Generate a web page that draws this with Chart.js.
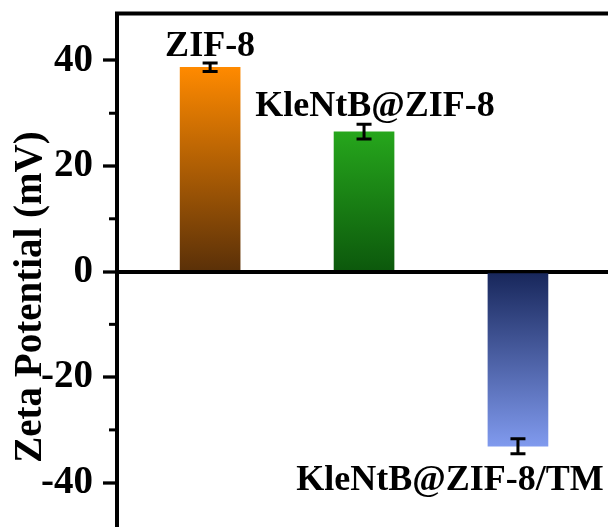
<!DOCTYPE html>
<html>
<head>
<meta charset="utf-8">
<script src="https://cdn.jsdelivr.net/npm/chart.js@4.4.0/dist/chart.umd.min.js"></script>
<style>
  html, body { margin: 0; padding: 0; background: #fff; overflow: hidden; }
</style>
</head>
<body>
<canvas id="chart-area" width="608" height="527"></canvas>
<script>
// values
var categories = ['ZIF-8', 'KleNtB@ZIF-8', 'KleNtB@ZIF-8/TM'];
var zetaValues = [38.7, 26.5, -33.1];
var zetaErrors = [0.8, 1.4, 1.4];
var minorTicks = [-30, -10, 10, 30];

var serif = '"Liberation Serif", "Times New Roman", serif';
// top colour, bottom colour of each bar
var barColors = [
    ['#ff8a00', '#5a3008'],
    ['#26a61c', '#0c580c'],
    ['#17265a', '#809aee']
];
// label offset (px) from the end of each bar
var labelShift = [[0, -11], [11, -16], [-68, 44]];

var decorations = {
    id: 'decorations',
    afterDatasetsDraw: function(chart) {
        var ctx = chart.ctx;
        var xs = chart.scales.x, ys = chart.scales.y;
        var area = chart.chartArea;
        ctx.save();
        ctx.strokeStyle = '#000';

        // top frame line
        ctx.lineWidth = 4;
        ctx.beginPath();
        ctx.moveTo(area.left - 2, area.top);
        ctx.lineTo(area.right, area.top);
        ctx.stroke();

        // minor ticks
        ctx.lineWidth = 3;
        minorTicks.forEach(function(v) {
            var py = ys.getPixelForValue(v);
            ctx.beginPath();
            ctx.moveTo(area.left - 8, py);
            ctx.lineTo(area.left, py);
            ctx.stroke();
        });

        // error bars
        ctx.lineWidth = 3;
        zetaValues.forEach(function(v, i) {
            var px = xs.getPixelForValue(i + 1);
            var hi = ys.getPixelForValue(v + zetaErrors[i]);
            var lo = ys.getPixelForValue(v - zetaErrors[i]);
            ctx.beginPath();
            ctx.moveTo(px, hi); ctx.lineTo(px, lo);
            ctx.moveTo(px - 7.5, hi); ctx.lineTo(px + 7.5, hi);
            ctx.moveTo(px - 7.5, lo); ctx.lineTo(px + 7.5, lo);
            ctx.stroke();
        });

        // bar labels
        ctx.fillStyle = '#000';
        ctx.font = 'bold 36px ' + serif;
        ctx.textAlign = 'center';
        ctx.textBaseline = 'alphabetic';
        categories.forEach(function(name, i) {
            var px = xs.getPixelForValue(i + 1);
            var py = ys.getPixelForValue(zetaValues[i]);
            ctx.fillText(name, px + labelShift[i][0], py + labelShift[i][1]);
        });

        // y axis title
        ctx.font = 'bold 39px ' + serif;
        ctx.textBaseline = 'middle';
        ctx.translate(31, 297);
        ctx.rotate(-Math.PI / 2);
        ctx.fillText('Zeta Potential (mV)', 0, 0);
        ctx.restore();
    }
};

var ctx = document.getElementById('chart-area').getContext('2d');
var config = {
    type: 'bar',
    data: {
        datasets: [{
            data: zetaValues.map(function(v, i) { return {x: i + 1, y: v}; }),
            barThickness: 60,
            borderWidth: 0,
            backgroundColor: function(c) {
                var i = c.dataIndex || 0;
                var chart = c.chart;
                if (!chart.chartArea) return barColors[i][0];
                var ys = chart.scales.y;
                var p0 = ys.getPixelForValue(0);
                var p1 = ys.getPixelForValue(zetaValues[i]);
                var g = chart.ctx.createLinearGradient(0, Math.min(p0, p1), 0, Math.max(p0, p1));
                g.addColorStop(0, barColors[i][0]);
                g.addColorStop(1, barColors[i][1]);
                return g;
            }
        }]
    },
    options: {
        responsive: false,
        animation: false,
        layout: { padding: { top: 13.5, left: 0, right: 0, bottom: 0 } },
        plugins: {
            legend: { display: false },
            tooltip: { enabled: false }
        },
        scales: {
            x: {
                type: 'linear',
                display: false,
                offset: false,
                grid: { offset: false },
                min: 0.395,
                max: 3.585
            },
            y: {
                min: -48.4,
                max: 48.9,
                afterFit: function(s) {
                    s.width = 117;
                    s.paddingTop = 0;
                    s.paddingBottom = 0;
                },
                ticks: {
                    stepSize: 20,
                    includeBounds: false,
                    color: '#000',
                    padding: 10,
                    font: { family: serif, size: 39, weight: 'bold' }
                },
                grid: {
                    drawOnChartArea: true,
                    color: function(c) { return c.tick && c.tick.value === 0 ? '#000' : 'rgba(0,0,0,0)'; },
                    lineWidth: function(c) { return c.tick && c.tick.value === 0 ? 4 : 0; },
                    tickColor: '#000',
                    tickWidth: 3.3,
                    tickLength: 14
                },
                border: { display: true, color: '#000', width: 4 }
            }
        }
    },
    plugins: [decorations]
};
window.zetaChart = new Chart(ctx, config);
</script>
</body>
</html>
